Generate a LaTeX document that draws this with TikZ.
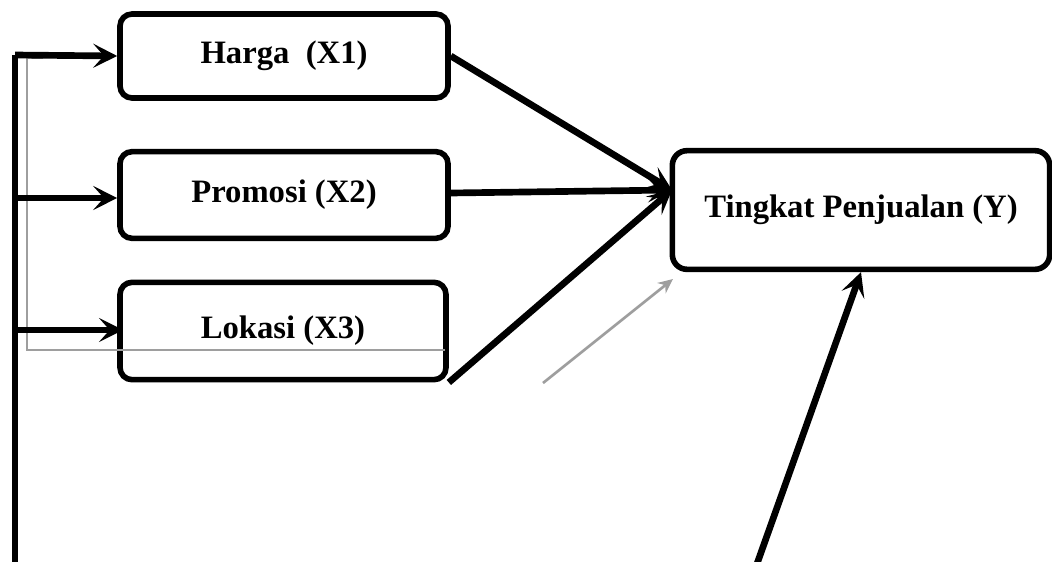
\documentclass[tikz,border=0pt]{standalone}
\usepackage{fontspec}
\setmainfont{Liberation Serif}
\usetikzlibrary{arrows.meta,calc}
\tikzset{
  varbox/.style={draw, line width=4.2pt, rounded corners=9pt, align=center,
    font=\bfseries\fontsize{24.5}{28}\selectfont},
  link/.style={line width=5pt, -{Stealth[length=18pt,width=18pt,inset=8pt]}},
  faint/.style={draw=black!38, line width=2pt}
}
\begin{document}
\begin{tikzpicture}[x=0.75pt,y=-0.75pt]
\useasboundingbox (0,0) rectangle (1052,561);
% variabel
\node[varbox, minimum width=246pt, minimum height=63pt] (harga) at (284,56) {Harga\ \ (X1)};
\node[varbox, minimum width=246pt, minimum height=65pt] (promosi) at (284,195) {Promosi (X2)};
\node[varbox, minimum width=244.5pt, minimum height=73pt] (lokasi) at (283,331) {Lokasi (X3)};
\node[varbox, minimum width=283pt, minimum height=89pt, rounded corners=11pt] (penjualan) at (861,210) {Tingkat Penjualan (Y)};
\coordinate (tip) at (672,190);
\coordinate (top) at (15,55);
\coordinate (bottom) at (15,575);
\coordinate (foot) at (753,575);
% garis abu-abu
\draw[faint] (43,58) -- (27,58) -- (27,350) -- (445,350);
\draw[faint, -{Stealth[length=11pt,width=10pt]}] (543,383) -- (673,279);
% garis kiri
\draw[line width=5pt] (bottom) -- (top);
\draw[link] (top) -- (harga.west);
\draw[link] (15,198) -- (harga.west |- 0,198);
\draw[link] (15,330) -- (123,330);
% ke Y
\draw[link] (harga.east) -- (tip);
\draw[link] (promosi.east |- 0,193) -- (tip);
\draw[link] (lokasi.south east) -- (tip);
\draw[link] (foot) -- (penjualan.south);
\end{tikzpicture}
\end{document}
